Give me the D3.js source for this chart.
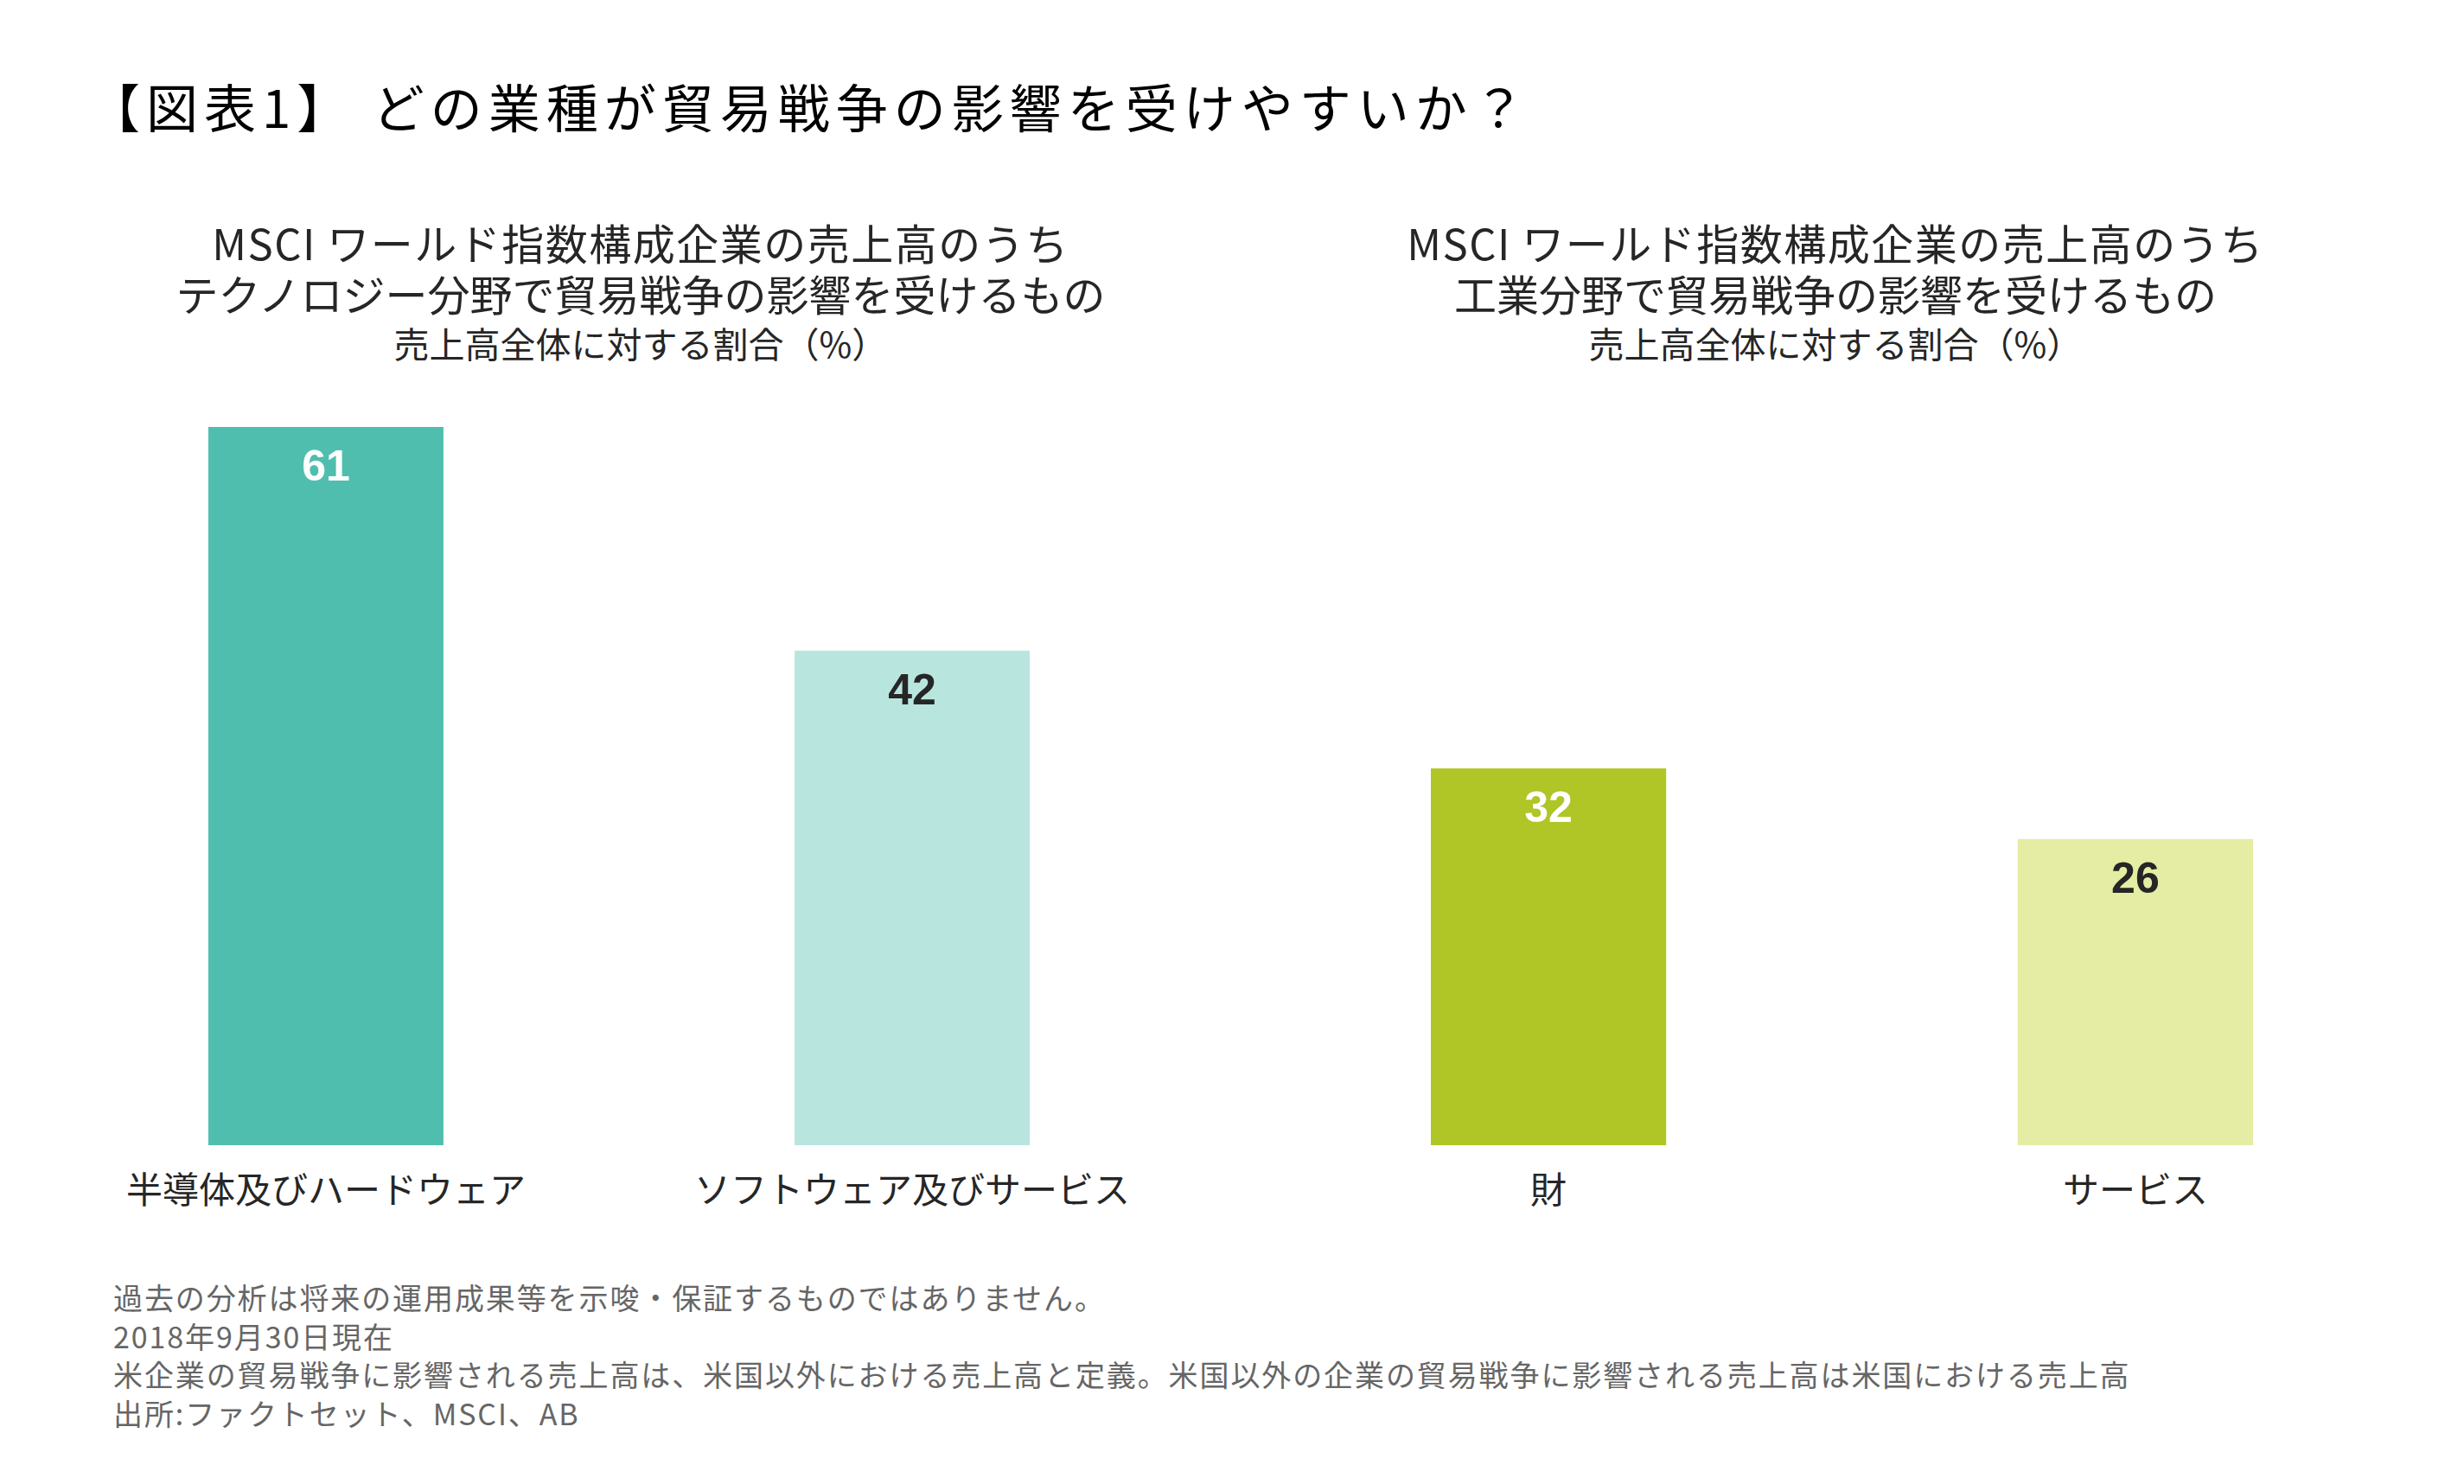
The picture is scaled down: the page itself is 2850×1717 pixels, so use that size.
<!DOCTYPE html>
<html>
<head>
<meta charset="utf-8">
<script src="https://cdn.jsdelivr.net/npm/d3@7"></script>
<style>
  html, body { margin: 0; padding: 0; background: #fff; }
  svg { display: block; }
</style>
</head>
<body>
<div id="chart"></div>
<script>
var width = 2850,
    height = 1717;

// data
var techCategories = ["半導体及びハードウェア", "ソフトウェア及びサービス"];
var techValues = [61, 42];
var indCategories = ["財", "サービス"];
var indValues = [32, 26];

var titleText = "【図表1】 どの業種が貿易戦争の影響を受けやすいか？";
var techSubtitle = ["MSCI ワールド指数構成企業の売上高のうち", "テクノロジー分野で貿易戦争の影響を受けるもの", "売上高全体に対する割合（%）"];
var indSubtitle = ["MSCI ワールド指数構成企業の売上高のうち", "工業分野で貿易戦争の影響を受けるもの", "売上高全体に対する割合（%）"];
var footnotes = [
  "過去の分析は将来の運用成果等を示唆・保証するものではありません。",
  "2018年9月30日現在",
  "米企業の貿易戦争に影響される売上高は、米国以外における売上高と定義。米国以外の企業の貿易戦争に影響される売上高は米国における売上高",
  "出所:ファクトセット、MSCI、AB"
];

var jp = "'Noto Sans CJK JP', 'Noto Sans', sans-serif";
var num = "'Liberation Sans', Arial, sans-serif";

var svg = d3.select("#chart").append("svg")
    .attr("width", width)
    .attr("height", height);

svg.append("text")
    .attr("x", 102)
    .attr("y", 148)
    .attr("font-family", jp)
    .attr("font-size", 60)
    .attr("letter-spacing", 7)
    .attr("fill", "#000")
    .text(titleText);

var y = d3.scaleLinear()
    .domain([0, 61])
    .range([1325, 494]);

var panels = [
  {cats: techCategories, vals: techValues, sub: techSubtitle, range: [241, 1191], center: 741,
   colors: ["#50beaf", "#b8e6df"], labelColors: ["#ffffff", "#262626"]},
  {cats: indCategories, vals: indValues, sub: indSubtitle, range: [1655, 2606], center: 2123,
   colors: ["#b0c526", "#e4eda3"], labelColors: ["#ffffff", "#262626"]}
];

panels.forEach(function(p) {
  var x = d3.scaleBand()
      .domain(p.cats)
      .range(p.range)
      .paddingInner(0.599)
      .paddingOuter(0);

  var g = svg.append("g");

  // subtitle
  g.selectAll("text.sub")
      .data(p.sub)
      .enter().append("text")
      .attr("class", "sub")
      .attr("x", p.center)
      .attr("y", function(d, i) { return [301, 360, 414][i]; })
      .attr("text-anchor", "middle")
      .attr("font-family", jp)
      .attr("font-size", function(d, i) { return i < 2 ? 49 : 41; })
      .attr("letter-spacing", function(d, i) { return i == 0 ? 1.5 : 0; })
      .attr("fill", "#262626")
      .text(function(d) { return d; });

  g.selectAll("rect")
      .data(p.vals)
      .enter().append("rect")
      .attr("x", function(d, i) { return x(p.cats[i]); })
      .attr("y", function(d) { return y(d); })
      .attr("width", x.bandwidth())
      .attr("height", function(d) { return y(0) - y(d); })
      .attr("fill", function(d, i) { return p.colors[i]; });

  g.selectAll("text.val")
      .data(p.vals)
      .enter().append("text")
      .attr("class", "val")
      .attr("x", function(d, i) { return x(p.cats[i]) + x.bandwidth() / 2; })
      .attr("y", function(d) { return y(d) + 62; })
      .attr("text-anchor", "middle")
      .attr("font-family", num)
      .attr("font-weight", "bold")
      .attr("font-size", 50)
      .attr("fill", function(d, i) { return p.labelColors[i]; })
      .text(function(d) { return d; });

  var axis = d3.axisBottom(x).tickSize(0).tickPadding(0);
  var ax = g.append("g")
      .attr("transform", "translate(0," + 1392 + ")")
      .call(axis);
  ax.select(".domain").remove();
  ax.selectAll("text")
      .attr("dy", 0)
      .attr("font-family", jp)
      .attr("font-size", 42)
      .attr("fill", "#262626");
});

svg.append("g")
    .selectAll("text")
    .data(footnotes)
    .enter().append("text")
    .attr("x", 131)
    .attr("y", function(d, i) { return 1515 + i * 44.5; })
    .attr("font-family", jp)
    .attr("font-size", 34)
    .attr("letter-spacing", 1.9)
    .attr("fill", "#666666")
    .text(function(d) { return d; });
</script>
</body>
</html>
